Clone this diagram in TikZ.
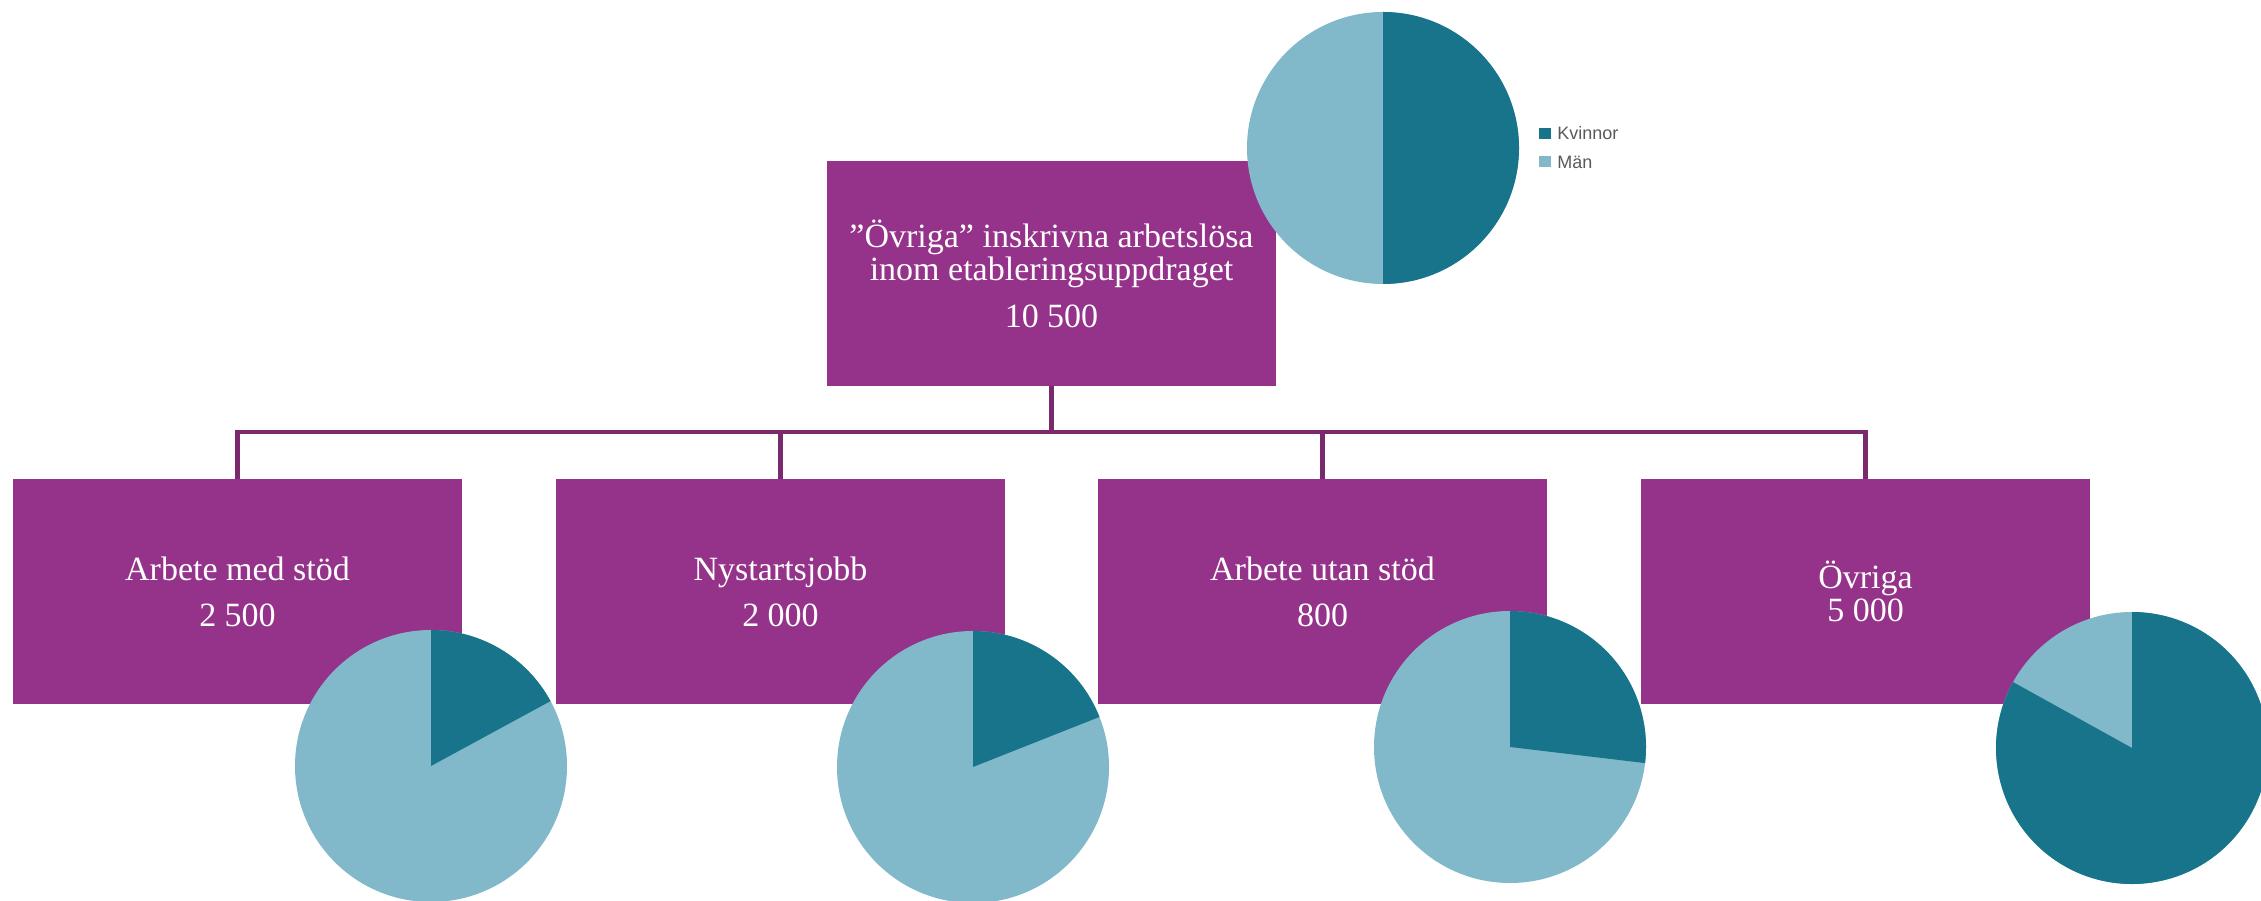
\documentclass[tikz,border=0pt]{standalone}
\usepackage{fontspec}
\setmainfont{Liberation Serif}
\newfontfamily\legendfont{Liberation Sans}
\usetikzlibrary{positioning}
\definecolor{boxpurple}{HTML}{953289}
\definecolor{linkpurple}{HTML}{7A2A6C}
\definecolor{kvinnor}{HTML}{17748B}
\definecolor{man}{HTML}{81B9CA}
\definecolor{legendgrey}{HTML}{595959}
\tikzset{
  unitbox/.style={fill=boxpurple, text=white, minimum width=449pt, minimum height=225pt,
    inner sep=0pt, align=center, font=\fontsize{34}{33}\selectfont},
  link/.style={draw=linkpurple, line width=4.5pt, line join=miter},
  legsq/.style={fill=#1, minimum width=12pt, minimum height=11pt, inner sep=0pt},
  legtxt/.style={text=legendgrey, font=\legendfont\fontsize{18}{20}\selectfont, inner sep=0pt, anchor=west}
}
% pie: light disc, dark sector from #3 to #4
\newcommand{\genderpie}[4]{%
  \fill[man] (#1,#2) circle (136pt);
  \fill[kvinnor] (#1,#2) -- ++(#3:136pt) arc (#3:#4:136pt) -- cycle;
}

\begin{document}
\begin{tikzpicture}[x=1pt,y=1pt]
    \useasboundingbox (0,0) rectangle (2261,901);

    \coordinate (bus) at (0,469);
    \node[unitbox] (etabl) at (1051.5,627.5) {”Övriga” inskrivna arbetslösa\\inom etableringsuppdraget\\[14pt]10 500};
    \node[unitbox] (stod) at (237.5,309.5) {Arbete med stöd\\[13pt]2 500};
    \node[unitbox] (nystart) at (780.5,309.5) {Nystartsjobb\\[13pt]2 000};
    \node[unitbox] (utan) at (1322.5,309.5) {Arbete utan stöd\\[13pt]800};
    \node[unitbox] (ovriga) at (1865.5,309.5) {Övriga\\5 000};

    \draw[link] (etabl.south) -- (etabl.south |- bus);
    \draw[link] (stod.north) -- (stod.north |- bus) -- (ovriga.north |- bus) -- (ovriga.north);
    \foreach \b in {nystart,utan}
      \draw[link] (\b.north) -- (\b.north |- bus);

    \genderpie{1383}{753}{-90}{90}
    \genderpie{431}{135}{28.5}{90}
    \genderpie{973}{134}{21.6}{90}
    \genderpie{1510}{154}{-6.8}{90}
    \genderpie{2132}{153}{151}{450}

    \node[legsq=kvinnor] (kvsq) at (1545,767.5) {};
    \node[legtxt, right=6pt of kvsq] (kvtxt) {Kvinnor};
    \node[legsq=man] (mansq) at (1545,739) {};
    \node[legtxt, right=6pt of mansq] (mantxt) {Män};
  \end{tikzpicture}
\end{document}
